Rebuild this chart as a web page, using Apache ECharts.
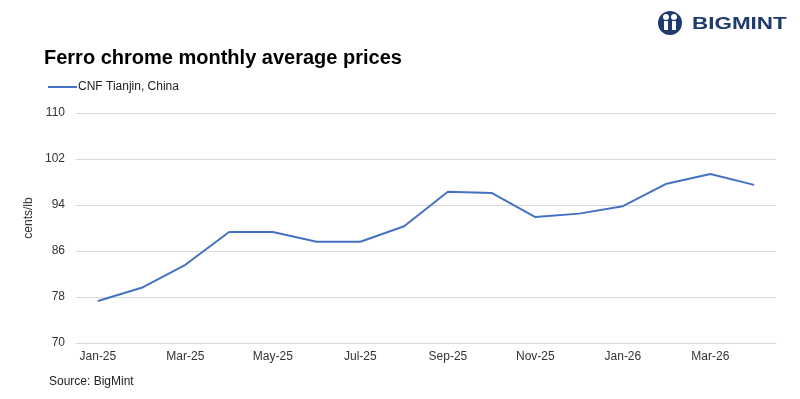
<!DOCTYPE html>
<html><head><meta charset="utf-8">
<script src="https://cdn.jsdelivr.net/npm/echarts@6/dist/echarts.min.js"></script>
<style>html,body{margin:0;padding:0;background:#fff}#c{width:800px;height:399px}</style>
</head><body><div id="c"></div>
<script>
const categories = ['Jan-25','Feb-25','Mar-25','Apr-25','May-25','Jun-25','Jul-25','Aug-25','Sep-25','Oct-25','Nov-25','Dec-25','Jan-26','Feb-26','Mar-26','Apr-26'];
const cnfTianjin = [77.3,79.6,83.6,89.3,89.3,87.6,87.6,90.3,96.3,96.1,91.9,92.5,93.8,97.7,99.4,97.5];
const yTicks = [70,78,86,94,102,110];

const chart = echarts.init(document.getElementById('c'));
const font = 'Liberation Sans, Arial, sans-serif';
chart.setOption({
  animation:false,
  title:{text:'Ferro chrome monthly average prices',left:39,top:43,textStyle:{fontFamily:font,fontWeight:'bold',fontSize:20,color:'#000'}},
  legend:{data:['CNF Tianjin, China'],left:43,top:76,itemWidth:29,itemHeight:2,icon:'rect',itemGap:4,textStyle:{fontFamily:font,fontSize:12,color:'#222',padding:[0,0,0,-4]}},
  grid:{left:76,right:24,top:113,bottom:56},
  xAxis:{type:'category',data:categories,boundaryGap:true,
    axisLine:{lineStyle:{color:'#d9d9d9'}},
    axisTick:{interval:1,length:5,lineStyle:{color:'#d9d9d9'}},
    axisLabel:{interval:1,fontFamily:font,fontSize:12,color:'#333',margin:8}},
  yAxis:{type:'value',min:yTicks[0],max:yTicks[yTicks.length-1],interval:8,
    axisLine:{show:false},axisTick:{show:false},
    axisLabel:{fontFamily:font,fontSize:12,color:'#333',margin:11},
    splitLine:{lineStyle:{color:'#d9d9d9'}}},
  series:[{name:'CNF Tianjin, China',type:'line',data:cnfTianjin,symbol:'none',lineStyle:{color:'#4472C4',width:2},itemStyle:{color:'#4472C4'}}],
  graphic:[
    {type:'text',x:29,y:218,rotation:Math.PI/2,style:{text:'cents/lb',fontFamily:font,fontSize:12,fill:'#333',align:'center',verticalAlign:'middle'}},
    {type:'text',left:49,top:376,style:{text:'Source: BigMint',fontFamily:font,fontSize:12,fill:'#222'}},
    {type:'circle',shape:{cx:670,cy:23,r:12},style:{fill:'#1f3a6e'}},
    {type:'circle',shape:{cx:666,cy:17,r:3},style:{fill:'#fff'}},
    {type:'circle',shape:{cx:674,cy:17,r:3},style:{fill:'#fff'}},
    {type:'rect',shape:{x:664,y:21,width:4,height:9},style:{fill:'#fff'}},
    {type:'rect',shape:{x:672,y:21,width:4,height:9},style:{fill:'#fff'}},
    {type:'text',x:692,y:24,scaleX:1.32,style:{text:'BIGMINT',fontFamily:font,fontWeight:'bold',fontSize:17,fill:'#1f3a6e',align:'left',verticalAlign:'middle'}}
  ]
});
</script></body></html>
